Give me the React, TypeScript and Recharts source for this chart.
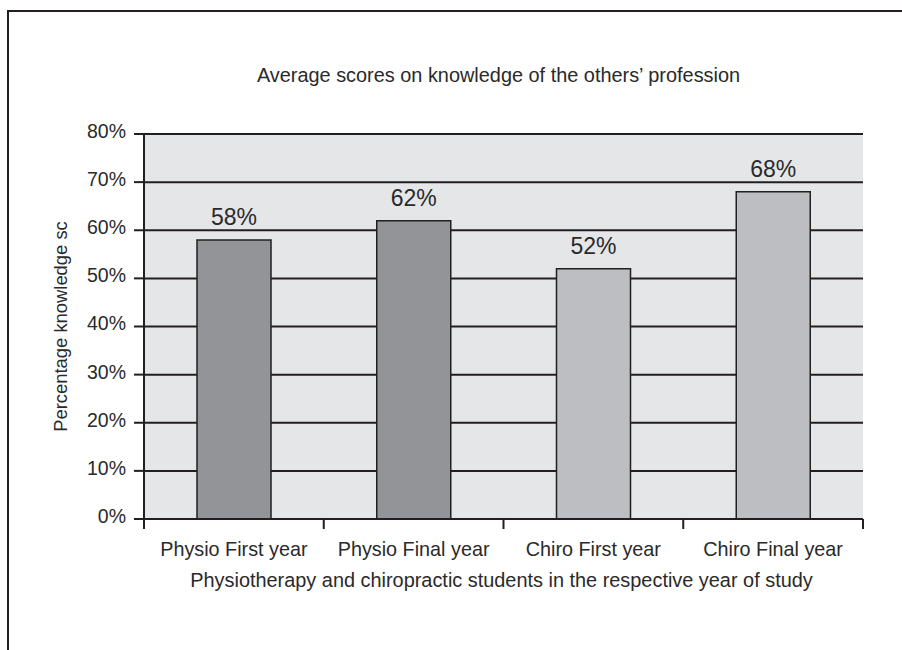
import React from 'react';
import { BarChart, Bar, XAxis, YAxis, CartesianGrid, LabelList, Cell } from 'recharts';

const categories = ['Physio First year', 'Physio Final year', 'Chiro First year', 'Chiro Final year'];
const scores = [58, 62, 52, 68];
const barColors = ['#939498', '#939498', '#bdbec2', '#bdbec2'];
const yTicks = [0, 10, 20, 30, 40, 50, 60, 70, 80];
const chartTitle = 'Average scores on knowledge of the others\u2019 profession';
const xTitle = 'Physiotherapy and chiropractic students in the respective year of study';
const yTitle = 'Percentage knowledge sc';

const data = categories.map((c, i) => ({ category: c, score: scores[i] }));

const FONT = '"Liberation Sans", Arial, Helvetica, sans-serif';
const INK = '#231f20';
const TEXT = '#2a2a2a';

const XTick = (props: any) => {
  const { x, y, payload, index } = props;
  const half = payload && typeof payload.offset === 'number' ? payload.offset : 0;
  const last = index === categories.length - 1;
  return (
    <g>
      <line x1={x - half} y1={y} x2={x - half} y2={y + 10} stroke={INK} strokeWidth={2} />
      {last && <line x1={x + half} y1={y} x2={x + half} y2={y + 10} stroke={INK} strokeWidth={2} />}
      <text x={x} y={y + 36.5} textAnchor="middle" fill={TEXT} fontSize={19.8} fontFamily={FONT}>
        {payload.value}
      </text>
    </g>
  );
};

const XTitle = (props: any) => {
  const vb = props.viewBox || {};
  return (
    <text x={vb.x + vb.width / 2 - 2} y={vb.y + 68} textAnchor="middle" fill={TEXT} fontSize={19.9} fontFamily={FONT}>
      {xTitle}
    </text>
  );
};

const YTitle = (props: any) => {
  const vb = props.viewBox || {};
  const cx = vb.x + 67;
  const cy = vb.y + vb.height / 2;
  return (
    <text x={cx} y={cy} transform={`rotate(-90, ${cx}, ${cy})`} textAnchor="middle" fill={TEXT} fontSize={18.4} fontFamily={FONT}>
      {yTitle}
    </text>
  );
};

export default function App() {
  return (
    <div style={{ position: 'fixed', left: 0, top: 0, width: 902, height: 650, overflow: 'hidden', background: '#fff' }}>
      <div
        style={{
          position: 'absolute',
          left: 7,
          top: 10,
          width: 900,
          height: 700,
          borderLeft: `2px solid ${INK}`,
          borderTop: `2px solid ${INK}`,
        }}
      />
      <div style={{ position: 'absolute', left: 0, top: 0 }}>
        <BarChart width={902} height={650} data={data} margin={{ top: 134, right: 39, left: 0, bottom: 0 }}>
          <CartesianGrid horizontal vertical={false} stroke={INK} strokeWidth={2} fill="#e5e6e8" fillOpacity={1} />
          <XAxis
            dataKey="category"
            height={131}
            tickLine={false}
            tickSize={0}
            tickMargin={0}
            axisLine={{ stroke: INK, strokeWidth: 2 }}
            tick={<XTick />}
            interval={0}
            label={<XTitle />}
          />
          <YAxis
            width={144}
            domain={[0, 80]}
            ticks={yTicks}
            interval={0}
            tickFormatter={(v: number) => `${v}%`}
            tickSize={10}
            tickMargin={8}
            axisLine={{ stroke: INK, strokeWidth: 2 }}
            tickLine={{ stroke: INK, strokeWidth: 2 }}
            tick={{ fill: TEXT, fontSize: 19.5, fontFamily: FONT, dy: -3 }}
            label={<YTitle />}
          />
          <YAxis
            yAxisId="right"
            orientation="right"
            width={0}
            tick={false}
            tickLine={false}
            axisLine={{ stroke: INK, strokeWidth: 2 }}
          />
          <Bar dataKey="score" barSize={74} stroke={INK} strokeWidth={1.5} isAnimationActive={false}>
            {data.map((d, i) => (
              <Cell key={d.category} fill={barColors[i]} />
            ))}
            <LabelList
              dataKey="score"
              position="top"
              offset={15}
              formatter={(v: any) => `${v}%`}
              fill={TEXT}
              fontSize={23}
              fontFamily={FONT}
            />
          </Bar>
        </BarChart>
      </div>
      <svg width={902} height={650} style={{ position: 'absolute', left: 0, top: 0, pointerEvents: 'none' }}>
        <text x={498.5} y={81.5} textAnchor="middle" fill={TEXT} fontSize={19.9} fontFamily={FONT}>
          {chartTitle}
        </text>
      </svg>
    </div>
  );
}
